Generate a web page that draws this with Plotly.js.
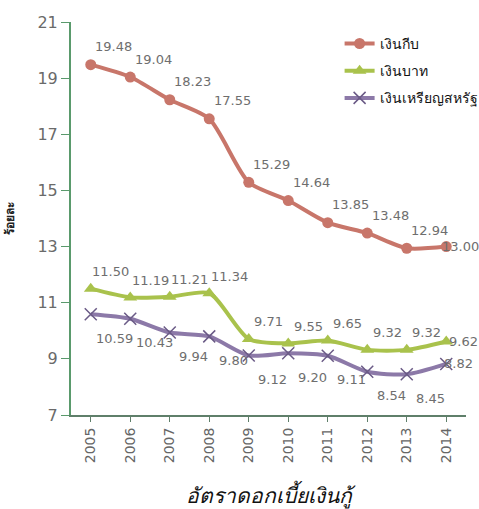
<!DOCTYPE html>
<html><head><meta charset="utf-8">
<script src="https://cdn.plot.ly/plotly-3.0.1.min.js"></script>
<style>html,body{margin:0;padding:0;background:#fff}#c{width:479px;height:509px}</style>
</head><body><div id="c"></div>
<script>
const years = ['2005','2006','2007','2008','2009','2010','2011','2012','2013','2014'];
const kip = [19.48,19.04,18.23,17.55,15.29,14.64,13.85,13.48,12.94,13.00];
const baht = [11.50,11.19,11.21,11.34,9.71,9.55,9.65,9.32,9.32,9.62];
const usd = [10.59,10.43,9.94,9.80,9.12,9.20,9.11,8.54,8.45,8.82];
const names = ['เงินกีบ','เงินบาท','เงินเหรียญสหรัฐ'];
const yTicks = [7,9,11,13,15,17,19,21];

const lblFont = {family:'DejaVu Sans, Verdana, sans-serif', size:13, color:'#6e6e6e'};
function tr(y, name, color, sym, size, mline, g){
  return {x:years, y:y, name:name, type:'scatter', mode:'lines+markers', legendgroup:g,
    line:{color:color, width:4, shape:'spline', smoothing:0.7},
    marker:{symbol:sym, size:size, color:color, line:mline||{width:0}}, cliponaxis:false};
}
const data = [
  tr(kip, names[0], '#c8766a', 'circle', 11, null, 'a'),
  tr(baht, names[1], '#a9c24c', 'triangle-up', 12, null, 'b'),
  tr(usd, names[2], '#8c79a8', 'x-thin', 12, {width:1.5, color:'#6a5a86'}, 'c')
];
function labels(y, dx, dy, lastDx, lastDy){
  return y.map(function(v,i){
    var last = (i === y.length-1);
    return {x:i, y:v, xref:'x', yref:'y', text:v.toFixed(2), showarrow:false,
      font:lblFont, xshift: last?lastDx:dx, yshift: last?lastDy:dy};
  });
}
const annotations = [].concat(
  labels(kip, 23, 18, 14, 0),
  labels(baht, 20, 17, 17, 0),
  labels(usd, 24, -24, 12, 0)
);
const layout = {
  width:479, height:509, margin:{l:71, r:13, t:22, b:94, autoexpand:false},
  paper_bgcolor:'#fff', plot_bgcolor:'#fff', showlegend:true, annotations:annotations,
  legend:{x:0.68, y:0.985, xanchor:'left', yanchor:'top', bgcolor:'rgba(0,0,0,0)',
    font:{family:'DejaVu Sans, sans-serif', size:14, color:'#111'}, tracegroupgap:6},
  xaxis:{type:'category', range:[-0.5,9.5], showgrid:false, zeroline:false,
    showline:true, linecolor:'#5f7f6a', linewidth:2, ticks:'outside', ticklen:5, tickcolor:'#5f7f6a',
    tickangle:-90, tickfont:{family:'DejaVu Sans, Verdana, sans-serif', size:14, color:'#666'},
    title:{text:'<i>อัตราดอกเบี้ยเงินกู้</i>', font:{family:'Noto Sans, DejaVu Sans, sans-serif', size:21, color:'#111'}, standoff:26}},
  yaxis:{range:[7,21], tickvals:yTicks, showgrid:false, zeroline:false,
    showline:true, linecolor:'#5a9a6c', linewidth:2, ticks:'outside', ticklen:8, tickcolor:'#5a9a6c',
    tickfont:{family:'DejaVu Sans, Verdana, sans-serif', size:16, color:'#6a6a6a'},
    title:{text:'<b>ร้อยละ</b>', font:{family:'Noto Sans, DejaVu Sans, sans-serif', size:12, color:'#222'}, standoff:20}}
};
Plotly.newPlot('c', data, layout, {displayModeBar:false, staticPlot:true});
</script></body></html>
